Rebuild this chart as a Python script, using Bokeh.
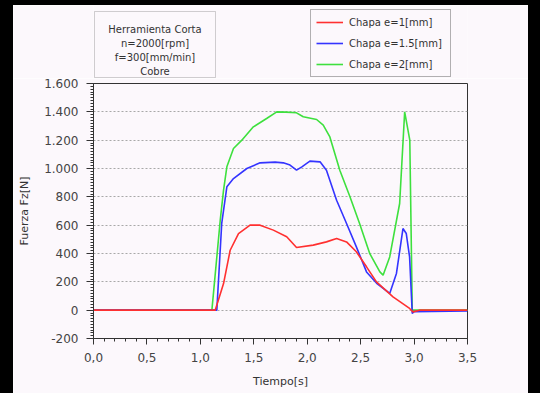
from bokeh.plotting import figure
from bokeh.models import (FixedTicker, Legend, LegendItem, Label, Div, BoxAnnotation)
from bokeh.layouts import row, column
from bokeh.embed import file_html
from bokeh.resources import INLINE

# ---- data ----
t_red = [0.0, 1.139, 1.217, 1.279, 1.357, 1.465, 1.559, 1.683, 1.808, 1.90, 2.056, 2.18,
         2.275, 2.368, 2.46, 2.555, 2.648, 2.803, 2.958, 2.99, 3.05, 3.5]
f_red = [0, 0, 188, 423, 541, 600, 600, 565, 518, 442, 459, 482,
         506, 482, 412, 306, 200, 94, 12, -12, 0, 0]

t_blue = [0.0, 1.154, 1.20, 1.248, 1.31, 1.435, 1.559, 1.70, 1.776, 1.839, 1.90, 1.95,
          2.025, 2.12, 2.18, 2.275, 2.368, 2.46, 2.555, 2.65, 2.772, 2.835, 2.896,
          2.927, 2.958, 2.983, 3.0, 3.5]
f_blue = [0, 0, 612, 871, 929, 1000, 1040, 1045, 1040, 1024, 988, 1012,
          1052, 1047, 988, 776, 612, 447, 270, 190, 118, 259, 576,
          541, 376, -24, -10, -5]

t_green = [0.0, 1.108, 1.186, 1.217, 1.248, 1.31, 1.388, 1.496, 1.62, 1.715, 1.80, 1.90,
           1.963, 2.088, 2.15, 2.212, 2.305, 2.40, 2.49, 2.585, 2.68, 2.71, 2.772,
           2.865, 2.912, 2.96, 2.983, 3.0, 3.5]
f_green = [0, 0, 635, 847, 1012, 1141, 1200, 1294, 1353, 1400, 1398, 1393,
           1365, 1346, 1306, 1223, 988, 800, 612, 400, 270, 247, 376,
           753, 1400, 1200, 0, 0, 0]

series_names = ["Chapa e=1[mm]", "Chapa e=1.5[mm]", "Chapa e=2[mm]"]
series_colors = ["#ff3030", "#3434ff", "#3ee03e"]
x_ticks = [0.0, 0.5, 1.0, 1.5, 2.0, 2.5, 3.0, 3.5]
x_tick_labels = ["0,0", "0,5", "1,0", "1,5", "2,0", "2,5", "3,0", "3,5"]
y_ticks = [-200, 0, 200, 400, 600, 800, 1000, 1200, 1400, 1600]
y_tick_labels = ["-200", "0", "200", "400", "600", "800", "1.000", "1.200", "1.400", "1.600"]
info_lines = ["Herramienta Corta", "n=2000[rpm]", "f=300[mm/min]", "Cobre"]

series = [(t_red, f_red), (t_blue, f_blue), (t_green, f_green)]

BG = "#fcf8fc"
FONT = "DejaVu Sans"
W = 515
HEAD_H = 73
MAIN_H = 315

# ---------- main chart ----------
p = figure(width=W, height=MAIN_H, output_backend="svg", toolbar_location=None,
           x_range=(0, 3.5), y_range=(-200, 1600),
           min_border_left=80, min_border_right=61, min_border_top=5, min_border_bottom=55)
p.margin = 0
p.background_fill_color = BG
p.border_fill_color = BG
p.outline_line_color = "#333333"
p.outline_line_width = 1

p.xgrid.visible = False
p.ygrid.grid_line_color = "#a8a8a8"
p.ygrid.grid_line_dash = "2 2"
p.ygrid.ticker = FixedTicker(ticks=y_ticks)

p.xaxis.ticker = FixedTicker(ticks=x_ticks, minor_ticks=[i / 10 for i in range(36)])
p.xaxis.major_label_overrides = dict(zip(x_ticks, x_tick_labels))
p.yaxis.ticker = FixedTicker(ticks=y_ticks, minor_ticks=list(range(-200, 1601, 20)))
p.yaxis.major_label_overrides = dict(zip(y_ticks, y_tick_labels))

for ax in (p.xaxis[0], p.yaxis[0]):
    ax.axis_line_color = "#333333"
    ax.major_tick_line_color = "#333333"
    ax.minor_tick_line_color = "#333333"
    ax.major_label_text_font = FONT
    ax.major_label_text_font_size = "12px"
    ax.major_label_text_color = "#444444"
    ax.axis_label_text_font = FONT
    ax.axis_label_text_font_size = "11px"
    ax.axis_label_text_font_style = "normal"
    ax.axis_label_text_color = "#333333"

p.xaxis.major_tick_out = 6
p.xaxis.major_tick_in = 0
p.xaxis.minor_tick_out = 3
p.xaxis.minor_tick_in = 0
p.yaxis.major_tick_out = 7
p.yaxis.major_tick_in = 0
p.yaxis.minor_tick_out = 3
p.yaxis.minor_tick_in = 0
p.xaxis.axis_label = "Tiempo[s]"
p.yaxis.axis_label = "Fuerza Fz[N]"
p.xaxis.major_label_standoff = 8
p.yaxis.major_label_standoff = 8
p.xaxis.axis_label_standoff = 10
p.yaxis.axis_label_standoff = 10

for (tx, fy), c in reversed(list(zip(series, series_colors))):
    p.line(tx, fy, line_color=c, line_width=1.6)

# ---------- header (info box + legend); its frame is aligned with the chart's frame ----------
# x range lies outside the data, so the header lines only serve as legend swatches
h = figure(width=W, height=HEAD_H, output_backend="svg", toolbar_location=None,
           x_range=(-10, -9), y_range=(0, 1), x_axis_type=None, y_axis_type=None,
           min_border=0)
h.margin = 0
h.background_fill_color = BG
h.border_fill_color = BG
h.outline_line_color = None
h.grid.visible = False

swatches = [h.line(tx, fy, line_color=c, line_width=1.6)
            for (tx, fy), c in zip(series, series_colors)]
legend = Legend(items=[LegendItem(label=n, renderers=[r]) for n, r in zip(series_names, swatches)],
                location=(217, 1), orientation="vertical",
                label_text_font=FONT, label_text_font_size="10px",
                label_text_color="#333333", glyph_width=27, glyph_height=14,
                spacing=7, padding=5, margin=0, label_standoff=6,
                label_height=14, label_width=96,
                border_line_color="#666666", background_fill_color=BG,
                background_fill_alpha=1.0)
h.add_layout(legend, "center")

h.add_layout(BoxAnnotation(left=1, right=122, top=67, bottom=1,
                           left_units="screen", right_units="screen",
                           top_units="screen", bottom_units="screen",
                           fill_alpha=0, line_color="#666666", line_width=1))
for i, s in enumerate(info_lines):
    h.add_layout(Label(x=61.5, y=49 - 14 * i, x_units="screen", y_units="screen",
                       text=s, text_align="center", text_baseline="middle",
                       text_font=FONT, text_font_size="10px", text_color="#333333"))

left_bar = Div(width=13, height=393, margin=0, styles={"background-color": "black"})
top_bar = Div(width=W, height=5, margin=0, styles={"background-color": "black"})
right_bar = Div(width=12, height=393, margin=0, styles={"background-color": "black"})
layout = row(left_bar, column(top_bar, h, p, spacing=0, margin=0), right_bar, spacing=0, margin=0)

open("out.html", "w").write(file_html(layout, INLINE))
